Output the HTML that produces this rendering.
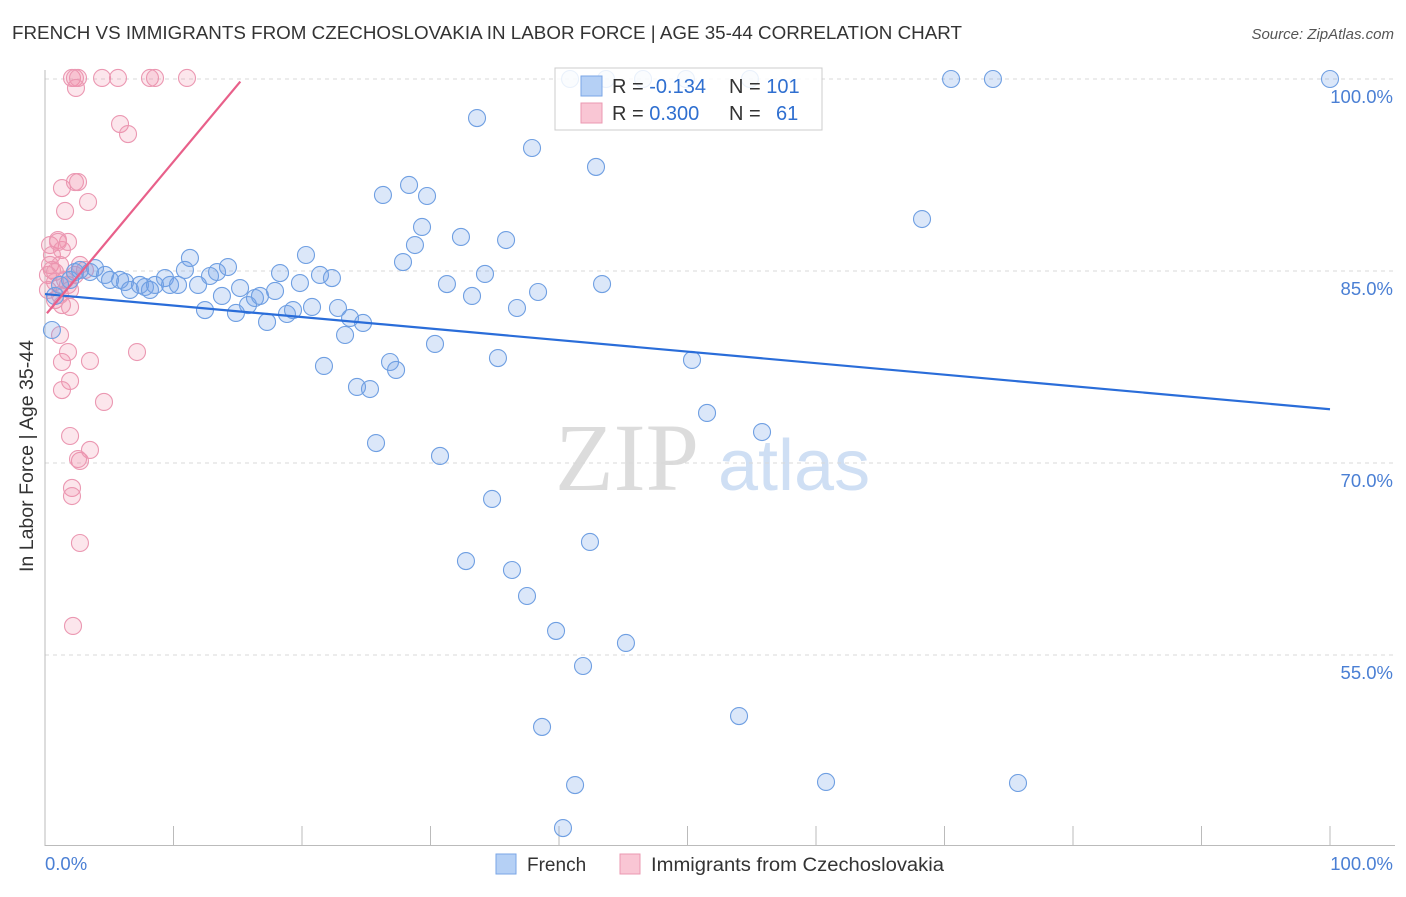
<!DOCTYPE html>
<html><head><meta charset="utf-8"><style>
body{margin:0;background:#fff;font-family:"Liberation Sans",sans-serif;}
</style></head><body>
<svg width="1406" height="892" xmlns="http://www.w3.org/2000/svg" font-family="Liberation Sans, sans-serif">
<text x="12" y="39" font-size="18" fill="#333" textLength="950" lengthAdjust="spacingAndGlyphs">FRENCH VS IMMIGRANTS FROM CZECHOSLOVAKIA IN LABOR FORCE | AGE 35-44 CORRELATION CHART</text>
<text x="1394" y="39" font-size="15" fill="#555" font-style="italic" text-anchor="end">Source: ZipAtlas.com</text>
<g>
<text x="555" y="490" font-size="96" fill="#dcdcdc" font-family="Liberation Serif, serif">ZIP</text>
<text x="718" y="490" font-size="72" fill="#cfdff4">atlas</text>
</g>
<g id="grid"></g>
<line x1="45" y1="70" x2="45" y2="846" stroke="#bbb"/>
<line x1="45" y1="845.5" x2="1395" y2="845.5" stroke="#bbb"/>
<g id="xticks"></g>
<text x="33" y="456" font-size="19" fill="#333" text-anchor="middle" transform="rotate(-90 33 456)" textLength="232" lengthAdjust="spacingAndGlyphs">In Labor Force | Age 35-44</text>
<text x="45" y="870" font-size="18.5" fill="#4a7fd4">0.0%</text>
<text x="1393" y="870" font-size="18.5" fill="#4a7fd4" text-anchor="end">100.0%</text>
<g id="pts"></g>
<g id="lines"></g>
<g>
<rect x="555" y="68" width="267" height="62" fill="#fff" fill-opacity="0.85" stroke="#ccc"/>
<rect x="581" y="76" width="21" height="20" fill="#b5d0f5" stroke="#7aa6e6"/>
<rect x="581" y="103" width="21" height="20" fill="#f9c6d4" stroke="#eb98b2"/>
<text x="612" y="93" font-size="20" fill="#333">R = <tspan fill="#2f6fd0">-0.134</tspan></text>
<text x="729" y="93" font-size="20" fill="#333">N = <tspan fill="#2f6fd0">101</tspan></text>
<text x="612" y="120" font-size="20" fill="#333">R = <tspan fill="#2f6fd0"> 0.300</tspan></text>
<text x="729" y="120" font-size="20" fill="#333">N = <tspan fill="#2f6fd0" x="776">61</tspan></text>
</g>
<g>
<rect x="496" y="854" width="20" height="20" fill="#b5d0f5" stroke="#7aa6e6"/>
<text x="527" y="871" font-size="19" fill="#333">French</text>
</g>
<g>
<rect x="620" y="854" width="20" height="20" fill="#f9c6d4" stroke="#eb98b2"/>
<text x="651" y="871" font-size="19" fill="#333" textLength="293" lengthAdjust="spacingAndGlyphs">Immigrants from Czechoslovakia</text>
</g>
</svg>
<script>
const yTicks=[100,85,70,55];
const yTickLabels=["100.0%","85.0%","70.0%","55.0%"];
const xTicks=[0,10,20,30,40,50,60,70,80,90,100];
const frenchPx=[[52,330],[55,296],[60,285],[70,280],[75,272],[80,270],[90,272],[95,268],[105,275],[110,280],[120,280],[125,282],[130,290],[140,285],[145,287],[150,290],[155,285],[165,278],[170,285],[178,285],[185,270],[190,258],[198,285],[205,310],[210,276],[217,272],[222,296],[228,267],[236,313],[240,288],[248,305],[255,298],[260,296],[267,322],[275,291],[280,273],[287,314],[293,310],[300,283],[306,255],[312,307],[320,275],[324,366],[332,278],[338,308],[345,335],[350,318],[357,387],[363,323],[370,389],[376,443],[383,195],[390,362],[396,370],[403,262],[409,185],[415,245],[422,227],[427,196],[435,344],[440,456],[447,284],[461,237],[466,561],[472,296],[477,118],[485,274],[492,499],[498,358],[506,240],[512,570],[517,308],[527,596],[532,148],[538,292],[542,727],[556,631],[563,828],[575,785],[583,666],[590,542],[596,167],[602,284],[626,643],[692,360],[707,413],[739,716],[762,432],[826,782],[922,219],[951,79],[993,79],[1018,783],[1330,79],[570,79],[606,79],[643,79],[686,79],[750,79]];
const czechPx=[[50,245],[52,255],[50,265],[52,270],[48,275],[55,272],[58,240],[62,250],[60,265],[65,280],[68,285],[70,290],[55,300],[62,305],[70,307],[60,335],[62,362],[68,352],[70,381],[62,390],[70,436],[80,461],[90,450],[78,459],[72,488],[72,496],[80,543],[73,626],[104,402],[90,361],[137,352],[72,78],[75,78],[78,78],[76,88],[102,78],[118,78],[150,78],[155,78],[187,78],[120,124],[128,134],[62,188],[75,182],[78,182],[65,211],[88,202],[68,242],[58,242],[80,265],[85,270],[75,275],[55,282],[48,290],[60,295]];
const frenchX=frenchPx.map(p=>+((p[0]-45)/12.85).toFixed(2));
const frenchY=frenchPx.map(p=>+(100-(p[1]-79)/12.8).toFixed(2));
const czechX=czechPx.map(p=>+((p[0]-45)/12.85).toFixed(2));
const czechY=czechPx.map(p=>+(100-(p[1]-79)/12.8).toFixed(2));
const frenchTrendX=[0,100];
const frenchTrendY=[83.2,74.2];
const czechTrendX=[0.15,15.2];
const czechTrendY=[81.7,99.8];
const NS="http://www.w3.org/2000/svg";
const sx=v=>45+v*12.85;
const sy=v=>79+(100-v)*12.8;
function mk(t,a){const e=document.createElementNS(NS,t);for(const k in a)e.setAttribute(k,a[k]);return e;}
const grid=document.getElementById('grid');
yTicks.forEach((v,i)=>{
const l=mk('line',{x1:45,x2:1395,y1:sy(v),y2:sy(v),stroke:'#d8d8d8','stroke-dasharray':'4,4'});


grid.appendChild(l);
const t=mk('text',{x:1393,y:sy(v)+24,'font-size':18.5,fill:'#4a7fd4','text-anchor':'end'});
t.textContent=yTickLabels[i];


grid.appendChild(t);
});
const xt=document.getElementById('xticks');
xTicks.forEach(v=>{
const l=mk('line',{x1:sx(v),x2:sx(v),y1:826,y2:846,stroke:'#bbb'});


xt.appendChild(l);
});
const pts=document.getElementById('pts');
czechX.forEach((x,i)=>{
const c=mk('circle',{cx:sx(x),cy:sy(czechY[i]),r:8.5,fill:'rgba(240,140,170,0.22)',stroke:'#eb98b2','stroke-width':1.1});


pts.appendChild(c);
});
frenchX.forEach((x,i)=>{
const c=mk('circle',{cx:sx(x),cy:sy(frenchY[i]),r:8.5,fill:'rgba(110,160,230,0.25)',stroke:'#6f9fe2','stroke-width':1.1});


pts.appendChild(c);
});
const lines=document.getElementById('lines');
const fl=mk('line',{x1:sx(frenchTrendX[0]),y1:sy(frenchTrendY[0]),x2:sx(frenchTrendX[1]),y2:sy(frenchTrendY[1]),stroke:'#2a6dd9','stroke-width':2.2});


lines.appendChild(fl);
const cl=mk('line',{x1:sx(czechTrendX[0]),y1:sy(czechTrendY[0]),x2:sx(czechTrendX[1]),y2:sy(czechTrendY[1]),stroke:'#e8608a','stroke-width':2.2});


lines.appendChild(cl);
</script>
</body></html>
